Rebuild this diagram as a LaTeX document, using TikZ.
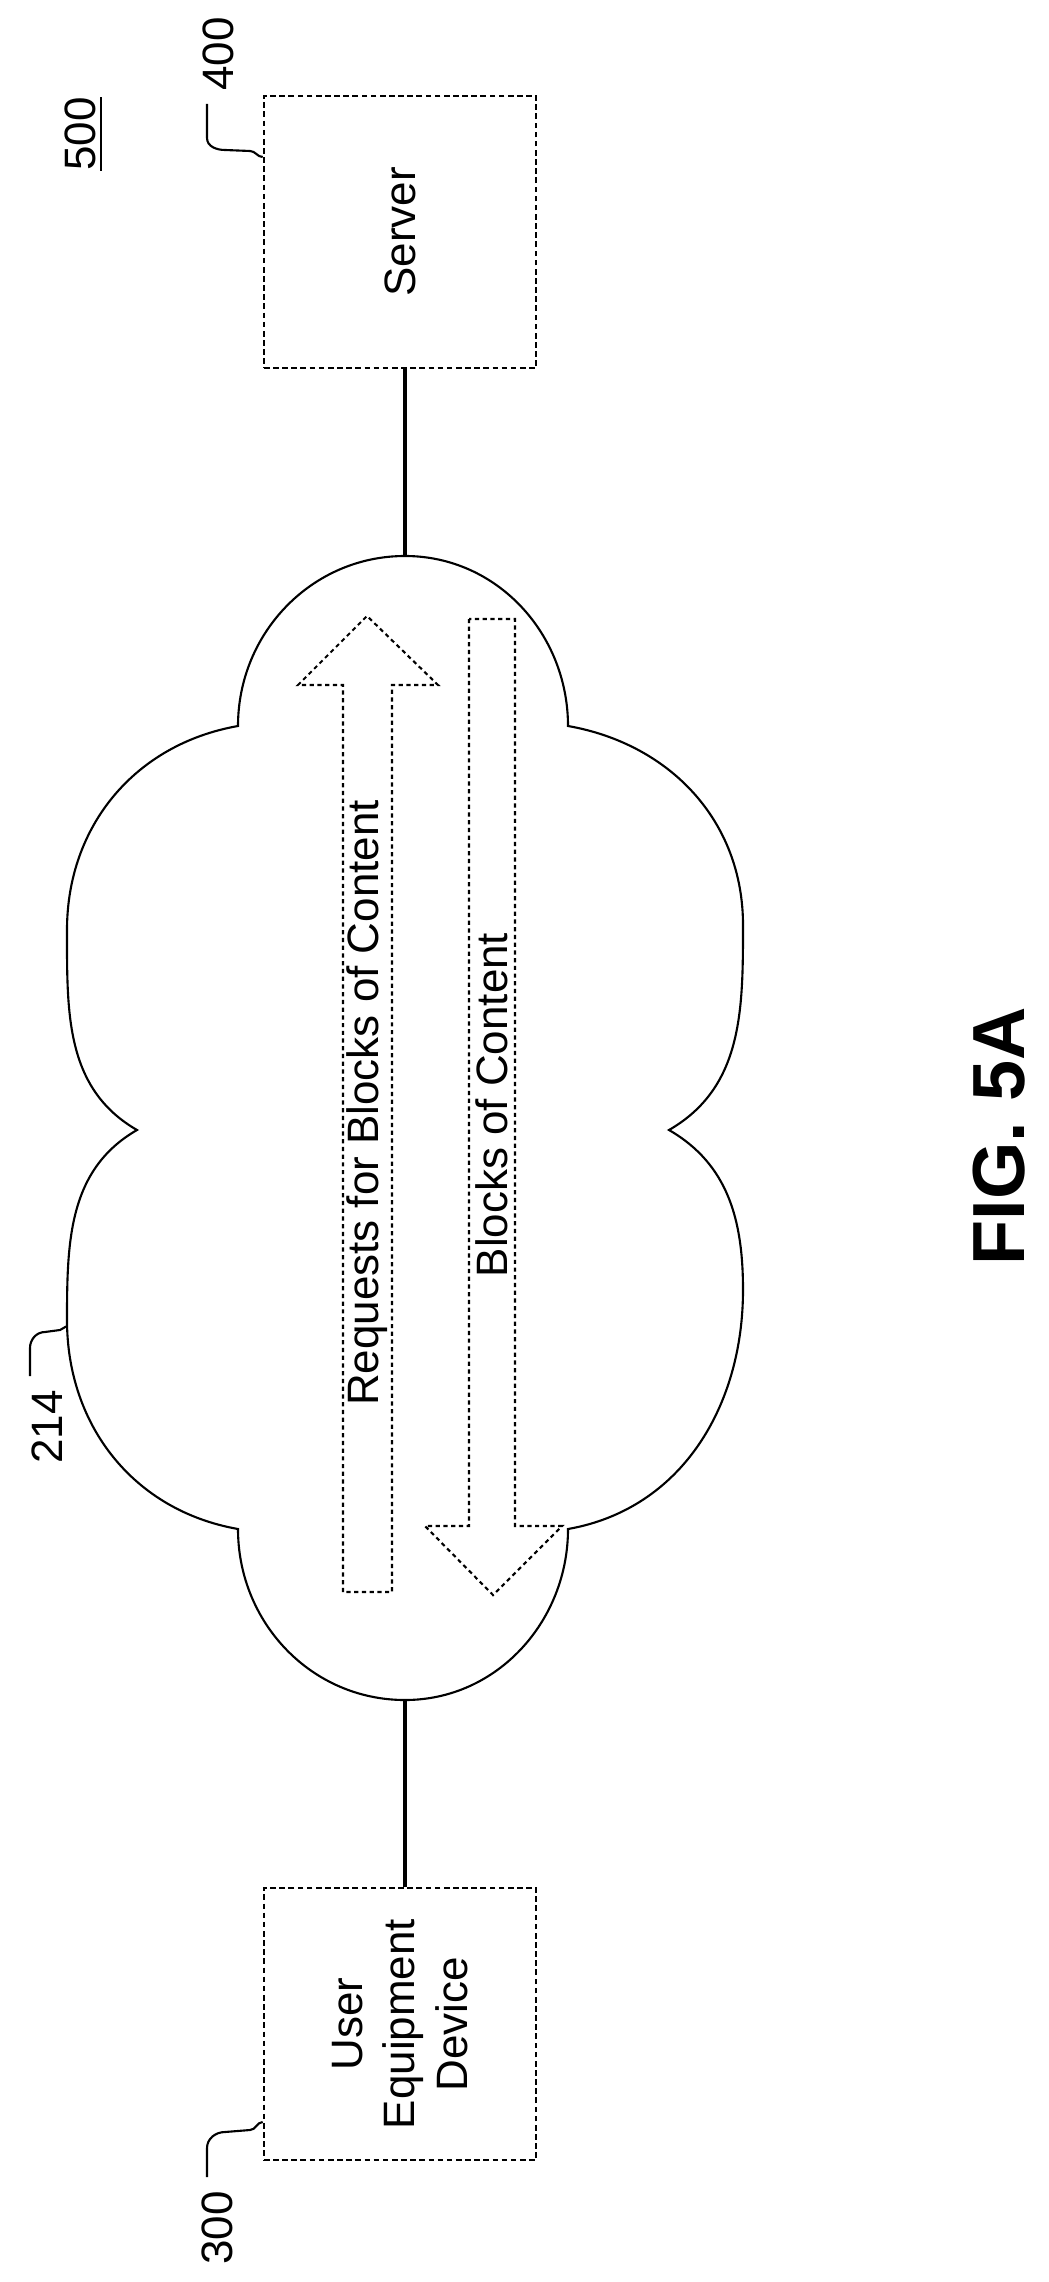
\documentclass[tikz,border=0pt]{standalone}
\usepackage{fontspec}
\setmainfont{Liberation Sans}
\begin{document}
\begin{tikzpicture}[x=0.01cm,y=-0.01cm,
  box/.style={draw,dash pattern=on 1.6pt off 1pt,line width=0.7pt,minimum width=2.72cm,minimum height=2.72cm,inner sep=0pt},
  dotline/.style={dash pattern=on 1.2pt off 1pt,line width=0.6pt},
  lbl/.style={rotate=90,font=\fontsize{12.5}{15}\selectfont,align=center},
  wire/.style={line width=1.1pt}]
\useasboundingbox (0,0) rectangle (1049,2282);
\node[box] (server) at (400,232) {};
\node[lbl] at (server.center) {Server};
\node[box] (ued) at (400,2024) {};
\node[lbl] at (ued.center) {User\\Equipment\\Device};
\coordinate (ctop) at (405,556);
\coordinate (cbot) at (405,1700);
\draw[line width=0.6pt] (238,726) to[out=90,in=180] (ctop) to[out=0,in=90] (568,726)
  to[out=-10,in=90] (743,925) to[out=-90,in=30] (669,1130)
  to[out=-30,in=90] (743,1290) to[out=-90,in=10] (568,1529)
  to[out=-90,in=0] (cbot) to[out=180,in=-90] (238,1529)
  to[out=170,in=-90] (67,1320) to[out=90,in=-150] (137,1130)
  to[out=150,in=-90] (67,930) to[out=90,in=-170] cycle;
\draw[wire] (server.south -| ctop) -- (ctop);
\draw[wire] (cbot) -- (ued.north -| cbot);
\draw[dotline] (343,1592) -- (343,685) -- (298,685) -- (367,616) -- (438,685) -- (392,685) -- (392,1592) -- cycle;
\draw[dotline] (469,619) -- (469,1526) -- (425,1526) -- (493,1595) -- (562,1526) -- (515,1526) -- (515,619) -- cycle;
\node[lbl] (req) at (367,1103) {Requests for Blocks of Content};
\node[lbl] (blk) at (492,1105) {Blocks of Content};
\node[lbl] (n500) at (84,134) {\underline{500}};
\node[lbl] (n400) at (218,54) {400};
\draw[line width=0.6pt] (207,104) -- (207,138) to[out=-90,in=180] (225,150) -- (250,151) to[out=0,in=180] (server.west |- 0,157);
\node[lbl] (n300) at (217,2228) {300};
\draw[line width=0.6pt] (207,2177) -- (207,2148) to[out=90,in=180] (225,2132) -- (250,2130) to[out=0,in=180] (ued.west |- 0,2122);
\node[lbl] (n214) at (47,1427) {214};
\draw[line width=0.6pt] (30,1376) -- (30,1348) to[out=90,in=180] (45,1332) -- (60,1330) -- (67,1326);
\node[rotate=90,font=\bfseries\fontsize{21}{25}\selectfont] (fig) at (999,1136) {FIG. 5A};
\end{tikzpicture}
\end{document}
